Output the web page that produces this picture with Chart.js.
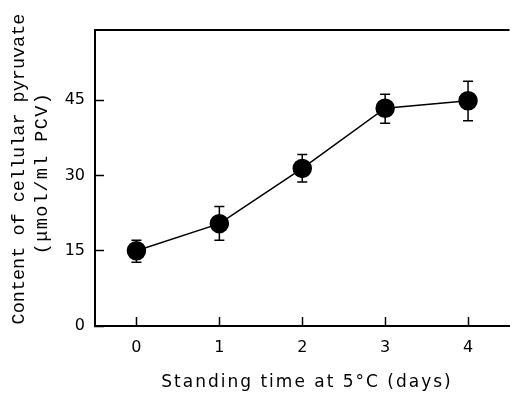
<!DOCTYPE html>
<html lang="en">
<head>
<meta charset="UTF-8">
<title>Cellular pyruvate vs standing time</title>
<script src="https://cdn.jsdelivr.net/npm/chart.js"></script>
<style>
    * {
        margin: 0;
        padding: 0;
        box-sizing: border-box;
    }

    body {
        width: 515px;
        height: 393px;
        overflow: hidden;
        background: #fff;
    }

    #chart {
        display: block;
    }
</style>
</head>
<body>
<canvas id="chart" width="520" height="393"></canvas>
<script>
    // standing time at 5 C (days)
    const days = [0, 1, 2, 3, 4];
    // cellular pyruvate, umol/ml PCV
    const pyruvate = [15.0, 20.4, 31.4, 43.4, 44.9];
    // error bar ends
    const errLow = [12.7, 17.1, 28.7, 40.4, 40.9];
    const errHigh = [17.1, 23.8, 34.2, 46.2, 48.8];

    const xTicks = [0, 1, 2, 3, 4];
    const yTicks = [0, 15, 30, 45];

    const xTitle = 'Standing time at 5°C (days)';
    const yTitle = ['Content of cellular pyruvate', '(μmol/ml PCV)'];

    // error bars drawn under the markers
    const errorBars = {
        id: 'errorBars',
        beforeDatasetsDraw(chart) {
            const { ctx, scales: { x, y } } = chart;
            ctx.save();
            ctx.strokeStyle = '#000';
            ctx.lineWidth = 1.5;
            days.forEach((d, i) => {
                const px = x.getPixelForValue(d);
                const top = y.getPixelForValue(errHigh[i]);
                const bot = y.getPixelForValue(errLow[i]);
                ctx.beginPath();
                ctx.moveTo(px, top);
                ctx.lineTo(px, bot);
                ctx.moveTo(px - 5, top);
                ctx.lineTo(px + 5, top);
                ctx.moveTo(px - 5, bot);
                ctx.lineTo(px + 5, bot);
                ctx.stroke();
            });
            ctx.restore();
        }
    };

    // top frame line + axis titles
    const frameAndTitles = {
        id: 'frameAndTitles',
        afterDraw(chart) {
            const { ctx, chartArea } = chart;
            ctx.save();
            ctx.strokeStyle = '#000';
            ctx.lineWidth = 2;
            ctx.beginPath();
            ctx.moveTo(chartArea.left, chartArea.top);
            ctx.lineTo(chartArea.right, chartArea.top);
            ctx.stroke();

            ctx.fillStyle = '#000';
            ctx.textAlign = 'center';
            ctx.textBaseline = 'middle';

            ctx.font = '17px "DejaVu Sans"';
            ctx.letterSpacing = '2px';
            ctx.fillText(xTitle, 307, 383);

            ctx.translate(19, 169);
            ctx.rotate(-Math.PI / 2);
            ctx.font = '18.5px "Liberation Mono"';
            ctx.letterSpacing = '0px';
            ctx.fillText(yTitle[0], 0, 0);
            ctx.letterSpacing = '1.4px';
            ctx.fillText(yTitle[1], -4, 23);
            ctx.restore();
        }
    };

    const tickFont = { family: 'DejaVu Sans', size: 16 };

    new Chart(document.getElementById('chart'), {
        type: 'line',
        data: {
            datasets: [{
                data: days.map((d, i) => ({ x: d, y: pyruvate[i] })),
                borderColor: '#000',
                borderWidth: 1.5,
                pointRadius: 9,
                pointBackgroundColor: '#000',
                pointBorderColor: '#000',
                tension: 0
            }]
        },
        options: {
            responsive: false,
            animation: false,
            layout: { padding: { left: 4, top: 30, right: 0, bottom: 0 } },
            plugins: {
                legend: { display: false },
                tooltip: { enabled: false }
            },
            scales: {
                x: {
                    type: 'linear',
                    min: -0.5,
                    max: 4.5,
                    afterBuildTicks: s => { s.ticks = xTicks.map(v => ({ value: v })); },
                    afterFit: s => { s.height = 67; },
                    border: { color: '#000', width: 2 },
                    grid: { drawOnChartArea: false, tickLength: -9, tickColor: '#000', tickWidth: 1.5 },
                    ticks: { padding: 21, color: '#000', font: tickFont }
                },
                y: {
                    min: 0,
                    max: 59,
                    afterBuildTicks: s => { s.ticks = yTicks.map(v => ({ value: v })); },
                    afterFit: s => { s.width = 91; },
                    border: { color: '#000', width: 2 },
                    grid: { drawOnChartArea: false, tickLength: -9, tickColor: '#000', tickWidth: 1.5 },
                    ticks: { padding: 19, color: '#000', font: tickFont }
                }
            }
        },
        plugins: [errorBars, frameAndTitles]
    });
</script>
</body>
</html>
